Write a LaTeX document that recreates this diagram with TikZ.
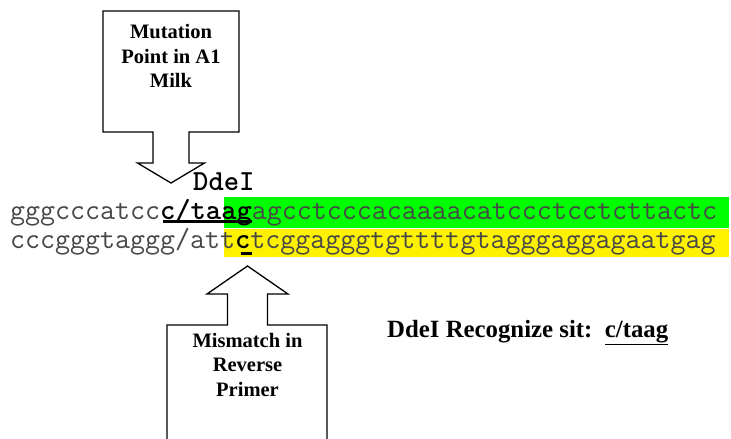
\documentclass[tikz,border=0pt]{standalone}
\usepackage{fontspec}
\setmainfont{Liberation Serif}
\usetikzlibrary{positioning}

\newcommand{\seqfont}{\fontsize{29.14}{32}\selectfont\ttfamily}
\newcommand{\lblfont}{\fontsize{20.5}{24.5}\selectfont\bfseries}

\begin{document}
\begin{tikzpicture}[
        x=1pt, y=-1pt,
        callout/.style={draw=black, line width=1.3pt, line join=miter},
        seq/.style={anchor=base west, inner sep=0pt, font=\seqfont, text=black!72},
        uline/.style={draw=black, line width=2.2pt},
      ]
      \useasboundingbox (0,0) rectangle (731,439);

      % highlighted parts of the two strands
      \fill[green] (224,197) rectangle (729,227.5);
      \fill[yellow] (224,228.5) rectangle (729,257);

      % block arrows
      \draw[callout] (103,11) -- (239,11) -- (239,132) -- (189,132) -- (189,163) -- (204.5,163)
        -- (171,183) -- (137.5,163) -- (153,163) -- (153,132) -- (103,132) -- cycle;
      \draw[callout] (167,439) -- (167,325) -- (227.5,325) -- (227.5,294) -- (207,294)
        -- (247.5,266) -- (288,294) -- (267.5,294) -- (267.5,325) -- (327,325) -- (327,439);

      \path (171,24.5) node[anchor=north, inner sep=0pt, align=center, font=\lblfont] (mutlbl)
        {Mutation\\Point in A1\\Milk};
      \path (247.5,333) node[anchor=north, inner sep=0pt, align=center, font=\lblfont] (mislbl)
        {Mismatch in\\Reverse\\Primer};

      % sequences
      \path (9.8,219) node[seq] (fwd)
        {gggcccatcc\textbf{\textcolor{black}{c/taag}}agcctcccacaaaacatccctcctcttactc};
      \path (9.8,248) node[seq] (rev)
        {cccgggtaggg/att\textbf{\textcolor{black}{c}}tcggagggtgttttgtagggaggagaatgag};
      \path (193,190) node[seq, text=black] (ddelbl) {\textbf{DdeI}};

      \draw[uline] (163,221.5) -- (252,221.5);
      \draw[uline] (241,253.5) -- (252,253.5);

      \path (387,337) node[anchor=base west, inner sep=0pt,
        font=\fontsize{24.8}{28}\selectfont\bfseries] (sitelbl)
        {DdeI Recognize sit:\ \ \underline{c/taag}};

    \end{tikzpicture}
\end{document}
